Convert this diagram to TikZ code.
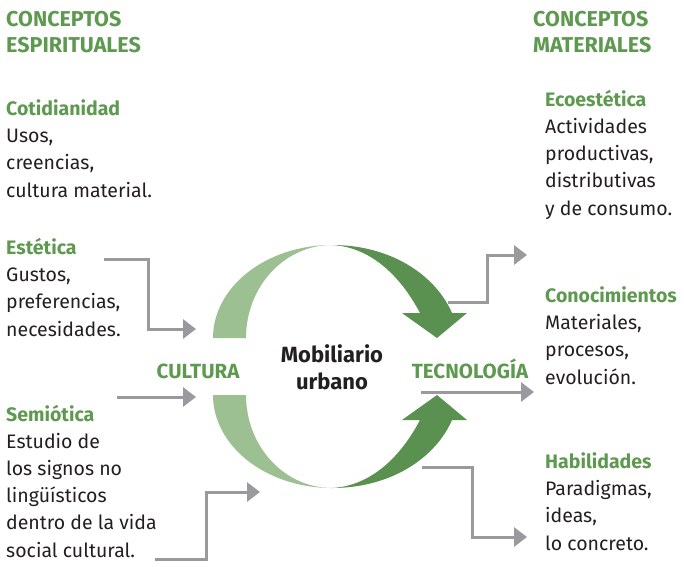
\documentclass[tikz,border=0pt]{standalone}
\usepackage{fontspec}
\setmainfont{Fira Sans}
\usetikzlibrary{arrows.meta}

\definecolor{verdeclaro}{HTML}{9CC092}
\definecolor{verdeoscuro}{HTML}{5A9150}
\definecolor{verdetexto}{HTML}{5E9950}
\definecolor{gris}{HTML}{9A9A9E}
\definecolor{tinta}{HTML}{231F20}

\tikzset{
    titulo/.style={anchor=base west, align=left, inner sep=0pt, text=verdetexto,
        font=\fontsize{21.5}{26}\selectfont\bfseries},
    bloque/.style={anchor=base west, align=left, inner sep=0pt, text=tinta,
        font=\fontsize{19.5}{27.2}\selectfont},
    eje/.style={inner sep=0pt, text=verdetexto, font=\fontsize{20.5}{22}\selectfont\bfseries},
    flecha/.style={draw=gris, line width=3pt, -{Triangle[length=13pt,width=19pt]}}
}
\newcommand{\verde}[1]{\textcolor{verdetexto}{\bfseries #1}}

\begin{document}
\begin{tikzpicture}[x=1pt,y=-1pt]
    \useasboundingbox (0,0) rectangle (684,566);

    % encabezados (base = ultima linea)
    \node[titulo] (espirituales) at (6,52) {CONCEPTOS\\ESPIRITUALES};
    \node[titulo] (materiales) at (533,52) {CONCEPTOS\\MATERIALES};

    % conceptos espirituales
    \node[bloque] (cotidianidad) at (6,197) {\verde{Cotidianidad}\\Usos,\\creencias,\\cultura material.};
    \node[bloque] (estetica) at (6,336) {\verde{Estética}\\Gustos,\\preferencias,\\necesidades.};
    \node[bloque] (semiotica) at (6,557) {\verde{Semiótica}\\Estudio de\\los signos no\\lingüísticos\\dentro de la vida\\social cultural.};

    % conceptos materiales
    \node[bloque] (ecoestetica) at (545,215) {\verde{Ecoestética}\\Actividades\\productivas,\\distributivas\\y de consumo.};
    \node[bloque] (conocimientos) at (545,384) {\verde{Conocimientos}\\Materiales,\\procesos,\\evolución.};
    \node[bloque] (habilidades) at (545,550) {\verde{Habilidades}\\Paradigmas,\\ideas,\\lo concreto.};

    % ciclo
    \fill[verdeclaro] (213,338) .. controls (213,287) and (266,245) .. (332,245)
        .. controls (284,245) and (246,287) .. (246,338) -- cycle;
    \fill[verdeclaro] (213,395) .. controls (213,446) and (266,488) .. (332,488)
        .. controls (284,488) and (246,446) .. (246,395) -- cycle;
    \fill[verdeoscuro] (332,245) .. controls (392,245) and (436,276) .. (452,313)
        -- (467,313) -- (437,338) -- (402,313) -- (420,313)
        .. controls (400,275) and (370,247) .. (332,245) -- cycle;
    \fill[verdeoscuro] (332,488) .. controls (392,488) and (436,457) .. (452,420)
        -- (467,420) -- (437,395) -- (402,420) -- (420,420)
        .. controls (400,458) and (370,486) .. (332,488) -- cycle;

    \node[text=tinta, align=center, inner sep=0pt, font=\fontsize{22}{27}\selectfont\bfseries,
        anchor=base] (mobiliario) at (332,389) {Mobiliario\\urbano};
    \node[eje] (cultura) at (198,371) {CULTURA};
    \node[eje] (tecnologia) at (470,369) {TECNOLOGÍA};

    % flechas grises
    \coordinate (e1) at (104,259);
    \coordinate (e2) at (196,329);
    \coordinate (s1) at (117,397);
    \coordinate (s2) at (196,397);
    \coordinate (s3) at (155,559);
    \coordinate (s4) at (260,492);
    \coordinate (t1) at (448,302);
    \coordinate (t2) at (527,255);
    \coordinate (t3) at (421,392);
    \coordinate (t4) at (534,392);
    \coordinate (t5) at (422,467);
    \coordinate (t6) at (527,537);

    \draw[flecha] (e1) -- ++(44,0) |- (e2);
    \draw[flecha] (s1) -- (s2);
    \draw[flecha] (s3) -- ++(51,0) |- (s4);
    \draw[flecha] (t1) -- ++(39,0) |- (t2);
    \draw[flecha] (t3) -- (t4);
    \draw[flecha] (t5) -- ++(50,0) |- (t6);
\end{tikzpicture}
\end{document}
